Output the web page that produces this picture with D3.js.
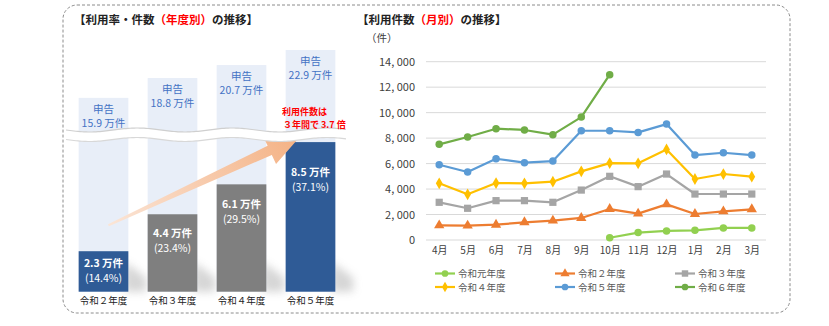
<!DOCTYPE html>
<html lang="ja">
<head>
<meta charset="utf-8">
<script src="https://cdn.jsdelivr.net/npm/d3@7"></script>
<style>
  html, body { margin: 0; padding: 0; background: #fff; }
  svg { display: block; font-family: "Noto Sans CJK JP", "Noto Sans", sans-serif; }
</style>
</head>
<body>
<svg id="chart" width="829" height="326"></svg>
<script>
// ---- Yearly usage (left panel) ----
const fiscalYears = ["令和２年度", "令和３年度", "令和４年度", "令和５年度"];
const filedTotals = [15.9, 18.8, 20.7, 22.9];          // 申告 (万件)
const usageCounts = [2.3, 4.4, 6.1, 8.5];              // 利用件数 (万件)
const usageRates  = ["14.4%", "23.4%", "29.5%", "37.1%"];
const barColors   = ["#2f5b96", "#7f7f7f", "#7f7f7f", "#2f5b96"];

// ---- Monthly usage (right panel) ----
const months = ["4月", "5月", "6月", "7月", "8月", "9月", "10月", "11月", "12月", "1月", "2月", "3月"];
const seriesNames = ["令和元年度", "令和２年度", "令和３年度", "令和４年度", "令和５年度", "令和６年度"];
const r1 = [null, null, null, null, null, null, 180, 580, 710, 760, 950, 950];
const r2 = [1150, 1130, 1200, 1390, 1520, 1730, 2430, 2070, 2800, 2040, 2250, 2410];
const r3 = [2960, 2490, 3090, 3090, 2960, 3920, 5000, 4190, 5180, 3610, 3610, 3610];
const r4 = [4450, 3590, 4470, 4450, 4580, 5390, 6040, 6020, 7110, 4790, 5180, 4970];
const r5 = [5910, 5340, 6380, 6070, 6200, 8580, 8580, 8450, 9100, 6670, 6850, 6670];
const r6 = [7510, 8090, 8740, 8640, 8270, 9650, 12980, null, null, null, null, null];
const seriesColors = ["#92d050", "#ed7d31", "#a5a5a5", "#ffc000", "#5b9bd5", "#70ad47"];
const seriesMarkers = ["circle", "triangle", "square", "diamond", "circle", "circle"];
const yTicks = [0, 2000, 4000, 6000, 8000, 10000, 12000, 14000];

const svg = d3.select("#chart");
const defs = svg.append("defs");

// dashed rounded frame around both panels
svg.append("rect")
  .attr("x", 63).attr("y", 5).attr("width", 727).attr("height", 308)
  .attr("rx", 14).attr("ry", 14)
  .attr("fill", "none").attr("stroke", "#8c8c8c")
  .attr("stroke-width", 1).attr("stroke-dasharray", "3,2");

// ================= Left panel =================
const left = svg.append("g");

// titles
const t1 = left.append("text").attr("x", 74).attr("y", 24)
  .attr("font-size", 11.5).attr("font-weight", "bold").attr("fill", "#222");
t1.append("tspan").text("【利用率・件数");
t1.append("tspan").attr("fill", "#ff0000").text("（年度別）");
t1.append("tspan").text("の推移】");

const xb = d3.scaleBand().domain(fiscalYears).range([69, 345])
  .paddingInner(0.28).paddingOuter(0.14);
const baseY = 291.7;
// lower segment of the broken axis (usage bars)
const yLow = d3.scaleLinear().domain([0, 9]).range([baseY, baseY - 9 * 17.6]);
// upper segment above the break (filed totals)
const yUp = d3.scaleLinear().domain([15, 24]).range([104, 42.5]);

// soft floor shadow behind bars
const blur = defs.append("filter").attr("id", "soft").attr("x", "-50%").attr("y", "-50%")
  .attr("width", "200%").attr("height", "200%");
blur.append("feGaussianBlur").attr("stdDeviation", 4);

left.append("g").selectAll("path").data(fiscalYears).join("path")
  .attr("d", (d, i) => {
    const x0 = xb(d) + xb.bandwidth();
    const top = Math.max(yLow(usageCounts[i]), baseY - 40);
    return `M${x0 - 4},${baseY} L${x0 - 4},${top + 10} L${x0 + 18},${baseY - 14} L${x0 + 18},${baseY} Z`;
  })
  .attr("fill", "#8a8a8a").attr("opacity", 0.35).attr("filter", "url(#soft)");

// filed totals (light background bars)
left.append("g").selectAll("rect").data(fiscalYears).join("rect")
  .attr("x", d => xb(d)).attr("width", xb.bandwidth())
  .attr("y", (d, i) => yUp(filedTotals[i]))
  .attr("height", (d, i) => baseY - yUp(filedTotals[i]))
  .attr("fill", "#e8eef8");

// usage bars
left.append("g").selectAll("rect").data(fiscalYears).join("rect")
  .attr("x", d => xb(d)).attr("width", xb.bandwidth())
  .attr("y", (d, i) => yLow(usageCounts[i]))
  .attr("height", (d, i) => baseY - yLow(usageCounts[i]))
  .attr("fill", (d, i) => barColors[i]);

// growth arrow
const tail = [xb(fiscalYears[0]) + xb.bandwidth() * 0.6, yLow(usageCounts[0]) - 26];
const tip = [xb(fiscalYears[3]) + xb.bandwidth() * 0.3, yLow(usageCounts[3]) - 6];
const dx = tip[0] - tail[0], dy = tip[1] - tail[1];
const len = Math.hypot(dx, dy);
const ang = Math.atan2(dy, dx) * 180 / Math.PI;
const grad = defs.append("linearGradient").attr("id", "arrowGrad")
  .attr("x1", 0).attr("x2", 1).attr("y1", 0).attr("y2", 0);
grad.append("stop").attr("offset", 0).attr("stop-color", "#fbe5d6");
grad.append("stop").attr("offset", 1).attr("stop-color", "#f4b183");
const hl = 34, hw = 15;
left.append("path")
  .attr("transform", `translate(${tail[0]},${tail[1]}) rotate(${ang})`)
  .attr("d", `M0,-1 L${len - hl},-5 L${len - hl},-${hw} L${len},0 L${len - hl},${hw} L${len - hl},5 L0,1 Z`)
  .attr("fill", "url(#arrowGrad)");

// break band across the bars
const waveTop = [], waveBot = [];
for (let x = 66; x <= 346; x += 2) {
  waveTop.push([x, 130 + 2 * Math.sin((x - 66) / 95 * 2 * Math.PI)]);
}
for (let x = 346; x >= 66; x -= 2) {
  waveBot.push([x, 139.5 + 2 * Math.sin((x - 66) / 95 * 2 * Math.PI)]);
}
const line = d3.line();
left.append("path").attr("d", line(waveTop.concat(waveBot)) + "Z")
  .attr("fill", "#ffffff");
left.append("path").attr("d", line(waveTop)).attr("fill", "none")
  .attr("stroke", "#cfcfcf").attr("stroke-width", 1.2);
left.append("path").attr("d", line(waveBot)).attr("fill", "none")
  .attr("stroke", "#d8d8d8").attr("stroke-width", 1.2);

// filed-total labels
const filedLbl = left.append("g").attr("fill", "#4472c4").attr("font-size", 10.5)
  .attr("text-anchor", "middle");
fiscalYears.forEach((d, i) => {
  const cx = xb(d) + xb.bandwidth() / 2;
  const top = yUp(filedTotals[i]);
  filedLbl.append("text").attr("x", cx).attr("y", top + 15).text("申告");
  filedLbl.append("text").attr("x", cx).attr("y", top + 29).text(filedTotals[i].toFixed(1) + " 万件");
});

// usage labels inside bars
const useLbl = left.append("g").attr("fill", "#ffffff").attr("font-size", 10.5)
  .attr("font-weight", "bold").attr("text-anchor", "middle");
const lblOffsets = [16, 23, 24, 34];
fiscalYears.forEach((d, i) => {
  const cx = xb(d) + xb.bandwidth() / 2;
  const top = yLow(usageCounts[i]) + lblOffsets[i];
  useLbl.append("text").attr("x", cx).attr("y", top).text(usageCounts[i].toFixed(1) + " 万件");
  useLbl.append("text").attr("x", cx).attr("y", top + 15).attr("font-weight", "normal")
    .text("(" + usageRates[i] + ")");
});

// category labels
left.append("g").selectAll("text").data(fiscalYears).join("text")
  .attr("x", d => xb(d) + xb.bandwidth() / 2).attr("y", 304)
  .attr("text-anchor", "middle").attr("font-size", 9.5).attr("fill", "#222")
  .text(d => d);

// growth note
const note = left.append("g").attr("fill", "#ff0000").attr("font-size", 9)
  .attr("font-weight", "bold");
note.append("text").attr("x", 282).attr("y", 114.5).text("利用件数は");
note.append("text").attr("x", 283).attr("y", 127.5).text("３年間で 3.7 倍");

// ================= Right panel =================
const right = svg.append("g");
const t2 = right.append("text").attr("x", 357).attr("y", 24)
  .attr("font-size", 11.5).attr("font-weight", "bold").attr("fill", "#222");
t2.append("tspan").text("【利用件数");
t2.append("tspan").attr("fill", "#ff0000").text("（月別）");
t2.append("tspan").text("の推移】");

right.append("text").attr("x", 366).attr("y", 42).attr("font-size", 10.5)
  .attr("fill", "#404040").text("（件）");

const x = d3.scalePoint().domain(months).range([425, 766]).padding(0.5);
const y = d3.scaleLinear().domain([0, 14000]).range([240, 61.7]);

// gridlines
right.append("g").selectAll("line").data(yTicks).join("line")
  .attr("x1", 426).attr("x2", 766)
  .attr("y1", d => y(d)).attr("y2", d => y(d))
  .attr("stroke", "#d9d9d9").attr("stroke-width", 1);

// y axis labels
const yAxis = d3.axisLeft(y).tickValues(yTicks).tickSize(0).tickPadding(0)
  .tickFormat(d => d3.format(",")(d).replace(",", ", "));
right.append("g").attr("transform", "translate(415,0)").call(yAxis)
  .call(g => g.select(".domain").remove())
  .call(g => g.selectAll("text").attr("font-size", 11).attr("fill", "#404040")
    .attr("font-family", "'Noto Sans CJK JP', sans-serif"));

// x axis labels
const xAxis = d3.axisBottom(x).tickSize(0).tickPadding(0);
right.append("g").attr("transform", "translate(0,247)").call(xAxis)
  .call(g => g.select(".domain").remove())
  .call(g => g.selectAll("text").attr("font-size", 10).attr("fill", "#404040")
    .attr("font-family", "'Noto Sans CJK JP', sans-serif"));

const allSeries = [r1, r2, r3, r4, r5, r6];
const symbolFor = { circle: d3.symbolCircle, triangle: d3.symbolTriangle, square: d3.symbolSquare, diamond: d3.symbolDiamond };
const symbolSize = { circle: 44, triangle: 46, square: 52, diamond: 40 };
const lineGen = d3.line().defined(d => d[1] != null).x(d => x(d[0])).y(d => y(d[1]));

allSeries.forEach((vals, si) => {
  const pts = months.map((m, i) => [m, vals[i]]);
  const g = right.append("g");
  g.append("path").attr("d", lineGen(pts)).attr("fill", "none")
    .attr("stroke", seriesColors[si]).attr("stroke-width", 2.2)
    .attr("stroke-linejoin", "round");
  const mk = seriesMarkers[si];
  g.selectAll("path.pt").data(pts.filter(p => p[1] != null)).join("path")
    .attr("class", "pt")
    .attr("transform", p => `translate(${x(p[0])},${y(p[1])})`)
    .attr("d", d3.symbol(symbolFor[mk], symbolSize[mk]))
    .attr("fill", seriesColors[si]);
});

// legend
const legendCols = [435, 555, 675];
const legendRows = [273.5, 287];
seriesNames.forEach((name, si) => {
  const lx = legendCols[si % 3], ly = legendRows[Math.floor(si / 3)];
  const g = right.append("g").attr("transform", `translate(${lx},${ly})`);
  g.append("line").attr("x1", 0).attr("x2", 20).attr("y1", 0).attr("y2", 0)
    .attr("stroke", seriesColors[si]).attr("stroke-width", 2.2);
  const mk = seriesMarkers[si];
  g.append("path").attr("transform", "translate(10,0)")
    .attr("d", d3.symbol(symbolFor[mk], symbolSize[mk] * 0.8))
    .attr("fill", seriesColors[si]);
  g.append("text").attr("x", 23).attr("y", 3.5).attr("font-size", 9.5)
    .attr("fill", "#595959").text(name);
});
</script>
</body>
</html>
